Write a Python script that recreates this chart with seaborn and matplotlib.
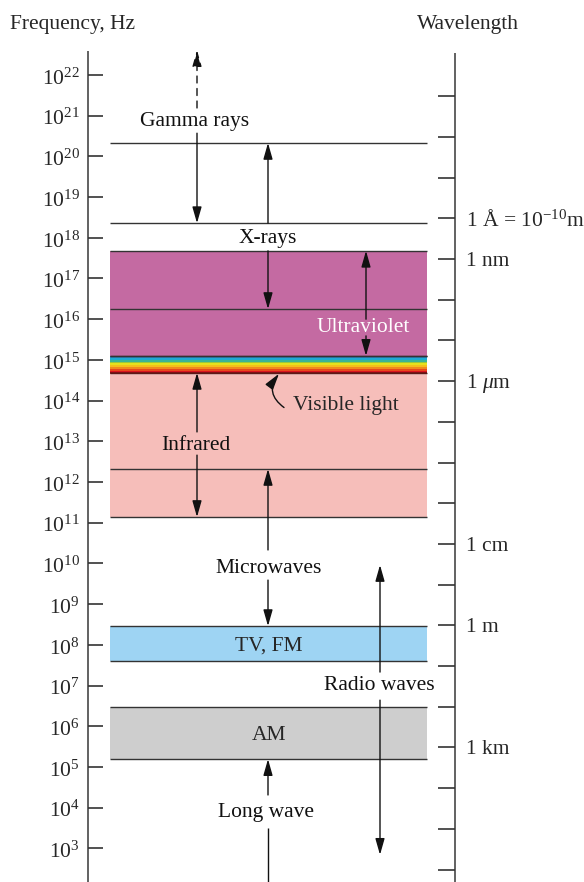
import numpy as np
import matplotlib
matplotlib.use("Agg")
import matplotlib.pyplot as plt
import seaborn as sns

# =====================================
#            DATA
# =====================================
# frequency axis: decades of Hz (log10)
freq_exp = list(range(3, 23))

# wavelength axis: decades of metres, placed at log10(c / lambda)
wave_exp = list(range(-13, 7))
wave_named = {-10: r"1 Å = 10$^{-10}$m", -9: "1 nm", -6: r"1 $\mu$m",
              -2: "1 cm", 0: "1 m", 3: "1 km"}
C_LIGHT = 3e8

# shaded bands (log10 Hz)
band_names = ["Ultraviolet", "Infrared", "TV, FM", "AM"]
band_lo = [15.10, 11.14, 7.60, 5.19]
band_hi = [17.68, 14.68, 8.46, 6.47]
band_colors = ["#C46AA2", "#F6BEBA", "#9ED4F3", "#CECECE"]

# visible strip
visible_lo, visible_hi = 14.68, 15.10
rainbow = ["#D8141E", "#E8481C", "#F08A1E", "#F5C01A", "#E6E21E",
           "#9CC83C", "#3CB496", "#1EAAD2", "#2A8CD2"]

# extra boundary lines
extra_lines = [20.33, 18.36, 16.25, 12.32]

# region labels: name, x, log f
region_text = ["Gamma rays", "X-rays", "Ultraviolet", "Infrared",
               "Microwaves", "Radio waves", "Long wave"]
region_x = [195, 268, 363, 196, 269, 379, 266]
region_y = [20.92, 18.04, 15.86, 12.96, 9.94, 7.06, 3.94]

# arrows: x, tail, tip (log f)
arrow_x = [197, 268, 268, 366, 366, 197, 197, 268, 268, 380, 380, 268]
arrow_tail = [20.57, 18.36, 17.68, 16.00, 15.59, 13.23, 12.66, 10.33, 9.59, 7.33, 6.64, 4.31]
arrow_tip = [18.36, 20.33, 16.25, 17.68, 15.10, 14.68, 11.14, 12.32, 8.46, 9.96, 2.84, 5.19]

# =====================================
#            PLOT
# =====================================
sns.set_theme(style="white")
plt.rcParams["font.family"] = ["Liberation Serif", "DejaVu Serif"]
plt.rcParams["mathtext.fontset"] = "custom"
plt.rcParams["mathtext.rm"] = "Liberation Serif"
plt.rcParams["mathtext.it"] = "Liberation Serif:italic"

PX = 40.7
top = 22 + 75 / PX
bottom = 22 - (882 - 75) / PX
DY = 2.5 / PX   # small downward nudge for labels

fig = plt.figure(figsize=(5.84, 8.82), dpi=100)
ax = fig.add_axes([0, 0, 1, 1])
ax.set_xlim(0, 584)
ax.set_ylim(bottom, top)
ax.axis("off")

FS = 15.5
X0, X1 = 110, 427
line_kw = dict(color="#333333", lw=1.0)

# bands
for lo, hi, col in zip(band_lo, band_hi, band_colors):
    ax.fill_between([X0, X1], lo, hi, color=col, lw=0)
    ax.hlines([lo, hi], X0, X1, **line_kw)

# rainbow strip
edges = np.linspace(visible_lo, visible_hi, len(rainbow) + 1)
for i, col in enumerate(rainbow):
    ax.fill_between([X0, X1], edges[i], edges[i + 1], color=col, lw=0)
ax.hlines([visible_lo], X0, X1, color="#6a1010", lw=1.1)
ax.hlines([visible_hi], X0, X1, **line_kw)

ax.hlines(extra_lines, X0, X1, **line_kw)

# frequency axis
ax.vlines(88, bottom, 22.6, color="#555555", lw=1.3)
for e in freq_exp:
    ax.hlines(e, 88, 103, color="#333333", lw=1.2)
    ax.text(80, e - 4 / PX, r"$\mathregular{10^{%d}}$" % e, ha="right", va="center",
            fontsize=FS)

# wavelength axis
ax.vlines(455, bottom, 22.55, color="#555555", lw=1.3)
for k in wave_exp:
    y = np.log10(C_LIGHT) - k
    ax.hlines(y, 438, 455, color="#333333", lw=1.2)
    if k in wave_named:
        ax.text(466, y - DY, wave_named[k], ha="left", va="center", fontsize=FS)

ax.text(10, 22 + 53 / PX - DY, "Frequency, Hz", ha="left", va="center", fontsize=FS)
ax.text(468, 22 + 53 / PX - DY, "Wavelength", ha="center", va="center", fontsize=FS)

# region labels
for name, x, y in zip(region_text, region_x, region_y):
    ax.text(x, y - DY, name, ha="center", va="center", fontsize=FS,
            color="white" if name == "Ultraviolet" else "#111111")
ax.text(269, (band_lo[2] + band_hi[2]) / 2 - DY, "TV, FM", ha="center", va="center", fontsize=FS)
ax.text(269, (band_lo[3] + band_hi[3]) / 2 - DY, "AM", ha="center", va="center", fontsize=FS)
ax.text(293, 13.94 - DY, "Visible light", ha="left", va="center", fontsize=FS)

astyle = "-|>,head_length=0.7,head_width=0.2"
for x, t0, t1 in zip(arrow_x, arrow_tail, arrow_tip):
    ax.annotate("", xy=(x, t1), xytext=(x, t0),
                arrowprops=dict(arrowstyle=astyle, color="#111111", lw=1.0,
                                shrinkA=0, shrinkB=0, mutation_scale=14))

# gamma dashed arrow up
ax.annotate("", xy=(197, 22.61), xytext=(197, 21.19),
            arrowprops=dict(arrowstyle=astyle, color="#111111", lw=1.0, ls=(0, (5, 4)),
                            shrinkA=0, shrinkB=0, mutation_scale=14))
# long wave tail line
ax.vlines(268, bottom, 3.50, color="#111111", lw=1.0)

# visible light curved arrow
ax.annotate("", xy=(279, 14.66), xytext=(284, 13.83),
            arrowprops=dict(arrowstyle=astyle, color="#111111", lw=1.0,
                            connectionstyle="arc3,rad=-0.5",
                            shrinkA=0, shrinkB=0, mutation_scale=14))

fig.savefig("out.png", dpi=100)
